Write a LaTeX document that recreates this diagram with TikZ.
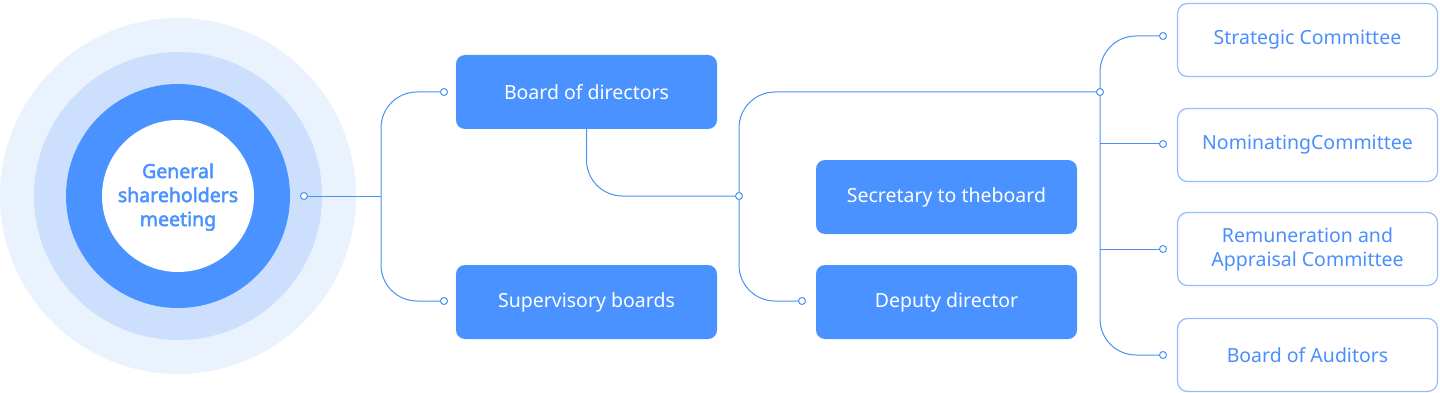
\documentclass[tikz,border=0pt]{standalone}
\usepackage{fontspec}
\setmainfont{Noto Sans}
\newfontfamily\heavysans{Noto Sans}[FakeBold=2.4]
\usetikzlibrary{positioning, calc}

\definecolor{mainblue}{HTML}{4A92FF}
\definecolor{ringmid}{HTML}{CCE0FD}
\definecolor{ringout}{HTML}{EAF2FE}
\definecolor{linkblue}{HTML}{4A90F5}
\definecolor{edgeblue}{HTML}{93BDFF}
\definecolor{textblue}{HTML}{4A8EFF}

\begin{document}
\begin{tikzpicture}[
  x=1pt, y=-1pt,
  solid box/.style={fill=mainblue, text=white, rounded corners=9pt, minimum width=261pt,
    minimum height=74pt, font=\fontsize{19.5}{24}\selectfont, align=center, inner sep=0pt},
  line box/.style={draw=edgeblue, line width=1.2pt, fill=white, text=textblue, rounded corners=10pt,
    minimum width=260pt, minimum height=73pt, font=\fontsize{19.5}{24}\selectfont, align=center, inner sep=0pt},
  link/.style={draw=linkblue, line width=1pt, rounded corners=36pt},
  dot/.style={draw=linkblue, line width=1pt, fill=white}
]
\useasboundingbox (0,0) rectangle (1440,393);

% Lingkaran rapat umum pemegang saham
\fill[ringout] (178,196) circle (178);
\fill[ringmid] (178,196) circle (144);
\fill[mainblue] (178,196) circle (112);
\fill[white] (178,196) circle (76);
\node[text=mainblue, font=\heavysans\fontsize{19.5}{24}\selectfont, align=center] (gsm) at (178,197)
  {General\\shareholders\\meeting};

% Kotak tengah
\node[solid box] (bod) at (586.5,92) {Board of directors};
\node[solid box] (sup) at (586.5,302) {Supervisory boards};
\node[solid box] (sec) at (946.5,197) {Secretary to theboard};
\node[solid box] (dep) at (946.5,302) {Deputy director};

% Kotak komite
\node[line box] (strat) at (1307.5,40) {Strategic Committee};
\node[line box] (nom) at (1307.5,145) {NominatingCommittee};
\node[line box] (rem) at (1307.5,249) {Remuneration and\\Appraisal Committee};
\node[line box] (aud) at (1307.5,355) {Board of Auditors};

% Titik sambung
\coordinate (gsmOut) at (304,196);
\coordinate (split) at (381,196);
\coordinate (bodIn) at (444,92);
\coordinate (supIn) at (444,301);
\coordinate (hub) at (739,196);
\coordinate (depIn) at (802,301);
\coordinate (comHub) at (1100,92);
\coordinate (comFoot) at (1100,355);
\coordinate (stratIn) at (1163,36);
\coordinate (nomIn) at (1163,144);
\coordinate (remIn) at (1163,249);
\coordinate (audIn) at (1163,355);

% Relasi rapat umum ke dewan
\draw[link] (gsmOut) -- (split);
\draw[link] (bodIn) -| (split) |- (supIn);

% Relasi dewan direksi ke sekretaris dan wakil direktur
\draw[link] (bod.south) |- (hub);
\draw[link] (comHub) -| (hub) |- (depIn);

% Relasi ke komite
\draw[link] (stratIn) -| (comFoot) -- (audIn);
\draw[link] (nomIn) -- (nomIn -| comHub);
\draw[link] (remIn) -- (remIn -| comHub);

\foreach \p in {gsmOut, bodIn, supIn, hub, depIn, comHub, stratIn, nomIn, remIn, audIn}
  \draw[dot] (\p) circle (3.5);

\end{tikzpicture}
\end{document}
